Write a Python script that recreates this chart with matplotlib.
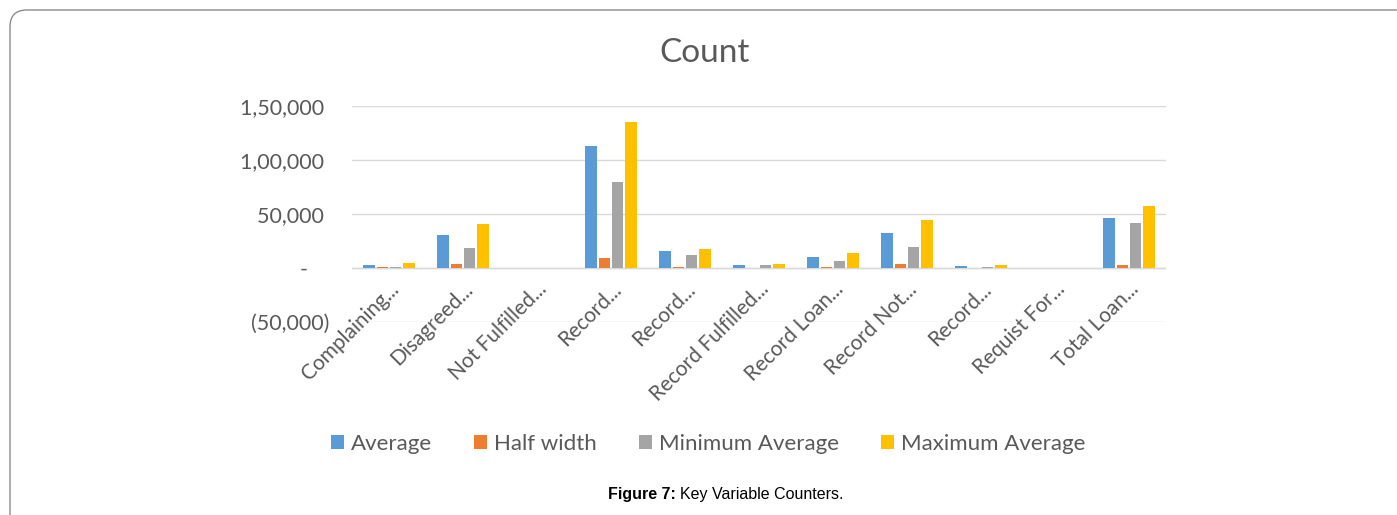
import matplotlib
matplotlib.use("Agg")
import matplotlib.pyplot as plt
import numpy as np
from matplotlib.patches import FancyBboxPatch
from matplotlib.ticker import FixedLocator, FixedFormatter

plt.rcParams['font.family'] = ['Lato', 'DejaVu Sans']

categories = ["Complaining...", "Disagreed...", "Not Fulfilled...", "Record...",
              "Record...", "Record Fulfilled...", "Record Loan...", "Record Not...",
              "Record...", "Requist For...", "Total Loan..."]
average = [2500, 30800, 0, 113000, 15400, 3100, 10200, 32100, 1850, 0, 46600]
half_width = [600, 3700, 0, 9300, 1000, 200, 1000, 3400, 300, 0, 2500]
minimum_average = [1200, 18200, 0, 79600, 12400, 2500, 6500, 19800, 1000, 0, 41400]
maximum_average = [4300, 40700, 0, 135000, 17900, 3400, 13600, 44500, 2500, 0, 57700]

series_names = ["Average", "Half width", "Minimum Average", "Maximum Average"]
series_values = [average, half_width, minimum_average, maximum_average]
colors = ["#5b9bd5", "#ed7d31", "#a5a5a5", "#ffc000"]

y_ticks = [-50000, 0, 50000, 100000, 150000]
# accounting-style labels: positives leave room for a closing parenthesis
y_tick_labels = ["(50,000)", "-    ", "50,000 ", "1,00,000 ", "1,50,000 "]

W, H = 1397, 515
fig = plt.figure(figsize=(W / 100, H / 100), dpi=100)

# rounded outer frame, open to the right and bottom
frame = FancyBboxPatch((10 / W, -0.2), 1.2, (H - 10) / H + 0.2,
                       boxstyle="round,pad=0,rounding_size=0.012",
                       transform=fig.transFigure, fill=False,
                       edgecolor="#8c8c8c", linewidth=1.0, mutation_aspect=W / H)
fig.patches.append(frame)

ax = fig.add_axes([352 / W, (H - 322) / H, (1166 - 352) / W, (322 - 106) / H])
x = np.arange(len(categories))
slot = 0.18
bw = 0.15
for i, (name, vals, c) in enumerate(zip(series_names, series_values, colors)):
    ax.bar(x + (i - 1.5) * slot, vals, width=bw, color=c, edgecolor="none",
           label=name, zorder=3)

ax.set_xlim(-0.5, len(categories) - 0.5)
ax.set_ylim(-50000, 150000)
ax.yaxis.set_major_locator(FixedLocator(y_ticks))
ax.yaxis.set_major_formatter(FixedFormatter(y_tick_labels))
ax.grid(axis="y", color="#d9d9d9", linewidth=1.0, zorder=0)
ax.axhline(0, color="#d9d9d9", linewidth=1.0, zorder=1)
for s in ax.spines.values():
    s.set_visible(False)
# category labels hang from the zero line
ax.spines["bottom"].set_position(("data", 0))
ax.tick_params(axis="both", length=0, colors="#595959")
ax.tick_params(axis="y", pad=16, labelsize=15.5)
ax.set_xticks(x)
ax.set_xticklabels(categories, rotation=45, ha="right", rotation_mode="anchor",
                   fontsize=15, color="#595959")
ax.tick_params(axis="x", pad=8)

fig.text(705 / W, (H - 53) / H, "Count", ha="center", va="center",
         fontsize=24, color="#595959")

leg = fig.legend(loc="center", bbox_to_anchor=(708 / W, (H - 444) / H), ncol=4,
                 frameon=False, fontsize=16, handlelength=0.6, handleheight=0.6,
                 handletextpad=0.3, columnspacing=1.9)
for t in leg.get_texts():
    t.set_color("#595959")

cap_font = ["Liberation Sans", "DejaVu Sans"]
t1 = fig.text(608 / W, (H - 494) / H, "Figure 7:", ha="left", va="center",
              fontsize=11.5, fontweight="bold", family=cap_font)
ax.annotate("Key Variable Counters.", xy=(1, 0.5), xycoords=t1,
            xytext=(3, 0), textcoords="offset points", ha="left", va="center",
            fontsize=11.5, family=cap_font, annotation_clip=False)

fig.savefig("out.png", dpi=100)
